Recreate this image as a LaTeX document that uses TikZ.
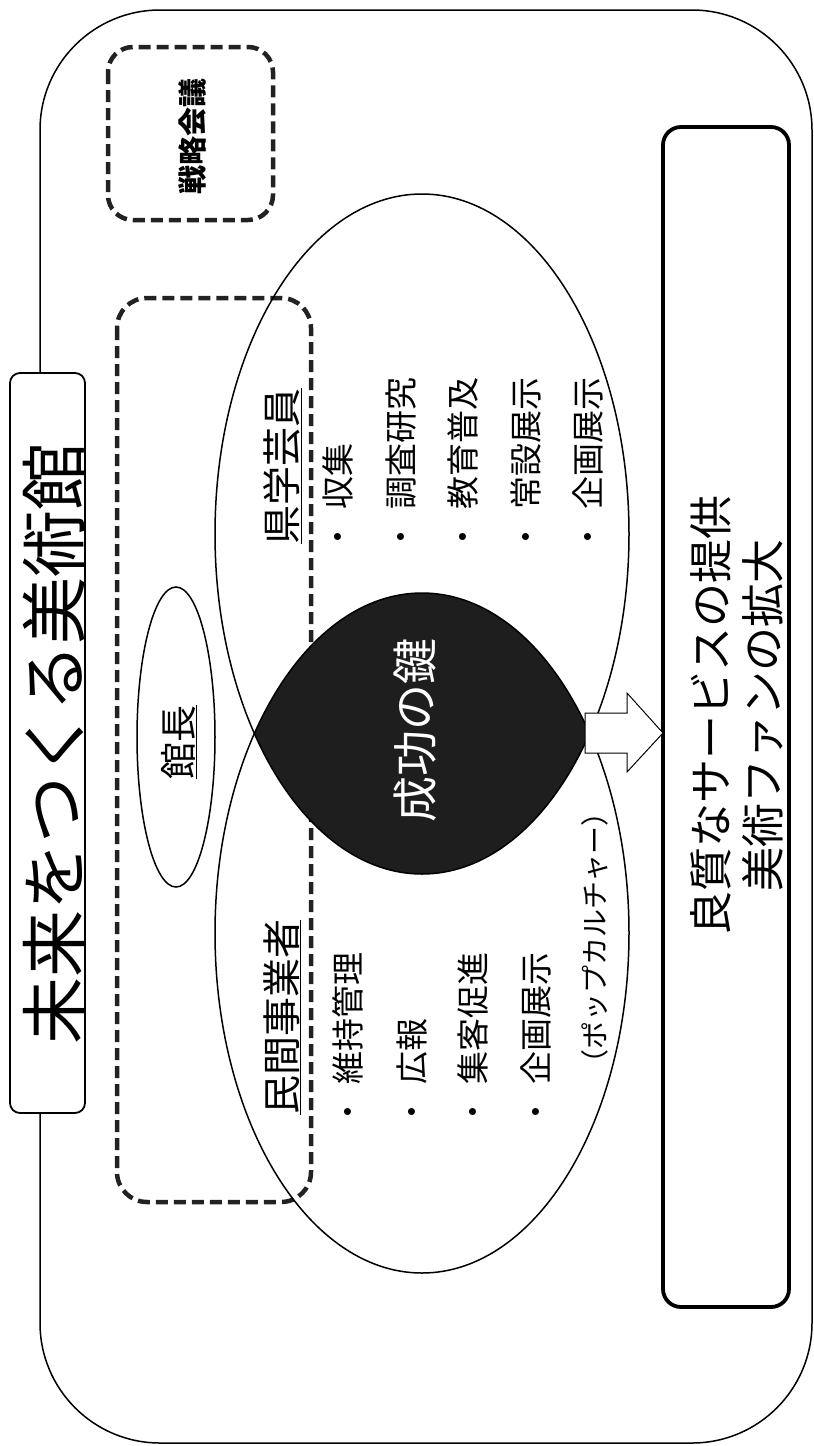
\documentclass[tikz,border=0pt]{standalone}
\usepackage{fontspec}
\setmainfont{Noto Sans CJK JP}
\usetikzlibrary{calc}
\definecolor{lensblack}{HTML}{1E1E1E}
\definecolor{dashgray}{HTML}{222222}
\newcommand{\fs}[1]{\fontsize{#1pt}{#1pt}\selectfont}
\begin{document}
\begin{tikzpicture}[x=1pt,y=-1pt,
  jp/.style={inner sep=0pt, outer sep=0pt, rotate=90, anchor=base},
  item/.style={jp, anchor=base west, font=\fs{33}},
  dashbox/.style={draw=dashgray, line width=4.5pt, dash pattern=on 12pt off 6pt},
  thinline/.style={line width=1.5pt},
  ell/.style={x radius=207pt, y radius=340pt}]
\useasboundingbox (0,0) rectangle (814,1446);
\fill[white] (0,0) rectangle (814,1446);

% outer frame
\draw[thinline, rounded corners=120pt] (40,10) rectangle (812,1443);

% dashed groups
\draw[dashbox, rounded corners=25pt] (108,47) rectangle (273,220);
\draw[dashbox, rounded corners=30pt] (117,298) rectangle (311,1202);

% two ellipses and their intersection
\coordinate (ucen) at (422,534);
\coordinate (lcen) at (422,933);
\begin{scope}
  \clip (ucen) ellipse [ell];
  \fill[lensblack] (lcen) ellipse [ell];
\end{scope}
\draw[thinline] (ucen) ellipse [ell];
\draw[thinline] (lcen) ellipse [ell];

% director ellipse
\coordinate (kcen) at (176,737);
\draw[thinline] (kcen) ellipse [x radius=39pt, y radius=150pt];

% title box
\draw[line width=1.8pt, fill=white, rounded corners=10pt] (10,373) rectangle (85,1113);

% result box
\draw[line width=3.8pt, rounded corners=18pt] (663,127) rectangle (789,1307);

% block arrow from lens to result box
\coordinate (lensR) at (585,733);
\coordinate (resL) at (663,733);
\draw[line width=1pt, fill=white]
  ($(lensR)+(0,-20)$) -- ($(resL)+(-36,-20)$) -- ($(resL)+(-36,-40)$) -- (resL)
  -- ($(resL)+(-36,39)$) -- ($(resL)+(-36,20)$) -- ($(lensR)+(0,20)$) -- cycle;

% texts
\node[jp, font=\fs{67}] (title) at (79,744) {未来をつくる美術館};
\node[jp, font=\bfseries\fs{29}] (senryaku) at (203,136) {戦略会議};
\node[jp, font=\fs{37}] (kancho) at (192,742) {\underline{館長}};
\node[jp, font=\fs{46}, text=white] (key) at (432,730) {成功の鍵};
\node[jp, font=\fs{39}] (kengaku) at (296,466) {\underline{県学芸員}};
\node[jp, font=\fs{39}] (minkan) at (296,1017) {\underline{民間事業者}};

\node[item] (u1) at (350.5,553) {・\hspace{11pt}収集};
\node[item] (u2) at (413.5,553) {・\hspace{11pt}調査研究};
\node[item] (u3) at (475.5,553) {・\hspace{11pt}教育普及};
\node[item] (u4) at (538.5,553) {・\hspace{11pt}常設展示};
\node[item] (u5) at (600.5,553) {・\hspace{11pt}企画展示};

\node[item] (l1) at (360.5,1128) {・\hspace{11pt}維持管理};
\node[item] (l2) at (424.5,1128) {・\hspace{11pt}広報};
\node[item] (l3) at (485.5,1128) {・\hspace{11pt}集客促進};
\node[item] (l4) at (548.5,1128) {・\hspace{11pt}企画展示};
\node[jp, font=\fs{28}] (pop) at (605,938) {（ポップカルチャー）};

\node[jp, font=\fs{44}] (out1) at (727,715) {良質なサービスの提供};
\node[jp, font=\fs{44}] (out2) at (779,715) {美術ファンの拡大};
\end{tikzpicture}
\end{document}
